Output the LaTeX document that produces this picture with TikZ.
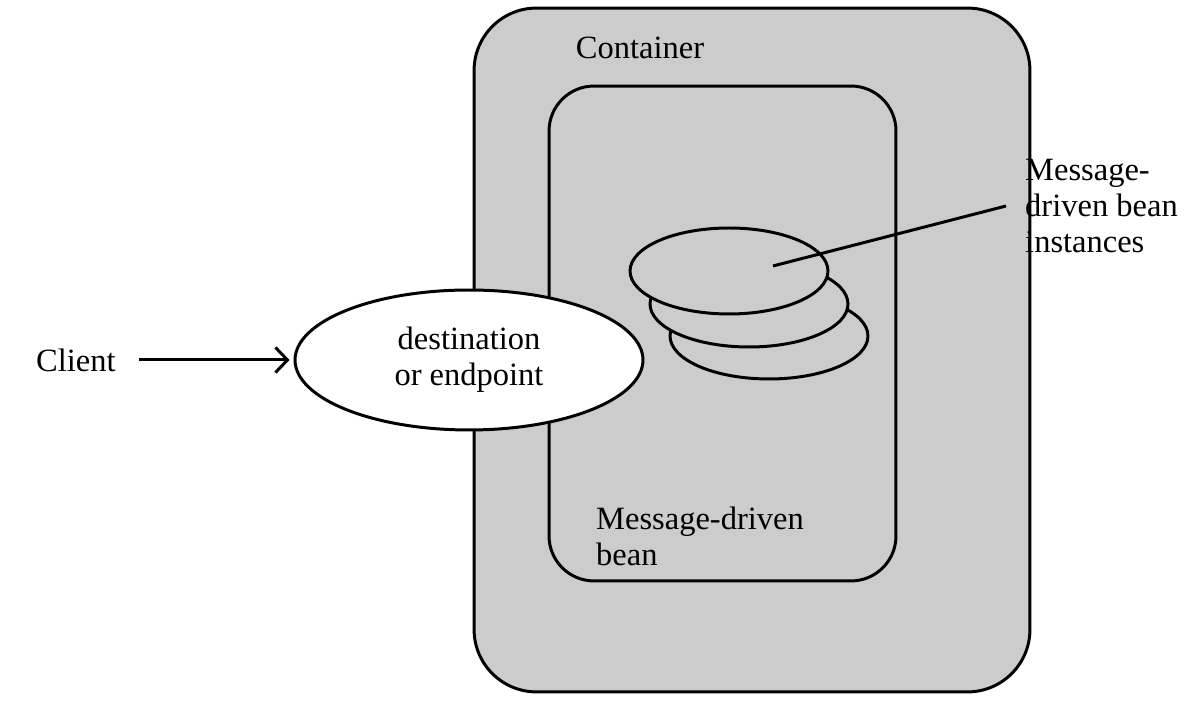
\documentclass[tikz,border=0pt]{standalone}
\usepackage{fontspec}
\setmainfont{Liberation Serif}
\usetikzlibrary{shapes,arrows.meta,calc,positioning}

\begin{document}
\begin{tikzpicture}[x=0.02cm,y=0.02cm,
  every node/.style={font=\fontsize{18.5}{20.5}\selectfont},
  box/.style={rectangle,draw,line width=1.7pt,fill=black!20,inner sep=0pt},
  disc/.style={ellipse,draw,line width=1.7pt,fill=black!20,inner sep=0pt,minimum width=3.96cm,minimum height=1.72cm}]
\useasboundingbox (0,0) rectangle (1185,702);

\node[box,rounded corners=1.25cm,minimum width=11.12cm,minimum height=13.68cm] at (752,352) (container) {};
\node[box,rounded corners=0.9cm,minimum width=6.94cm,minimum height=9.9cm] at (722.5,368.5) (bean) {};

\node at (640,654) (containerlabel) {Container};
\node[anchor=west,align=left] at (590,165.5) (beanlabel) {Message-driven\\bean};

\node[disc] at (769,366) (inst3) {};
\node[disc] at (749,398) (inst2) {};
\node[disc] at (729,431) (inst1) {};

\node[anchor=west,align=left] at (1019,496) (instlabel) {Message-\\driven bean\\instances};
\coordinate (pointer) at (1006,496);
\draw[line width=1.7pt] ([shift={(44,5)}]inst1.center) -- (pointer);

\node[ellipse,draw,line width=1.7pt,fill=white,inner sep=0pt,minimum width=6.96cm,minimum height=2.8cm,align=center] at (469,342) (dest) {destination\\or endpoint};

\node[anchor=west] at (30,342) (client) {Client};
\draw[line width=1.7pt,-{Straight Barb[length=0.24cm,width=0.5cm]},shorten <=0.35cm,shorten >=0.08cm] (client) -- (dest);
\end{tikzpicture}
\end{document}
